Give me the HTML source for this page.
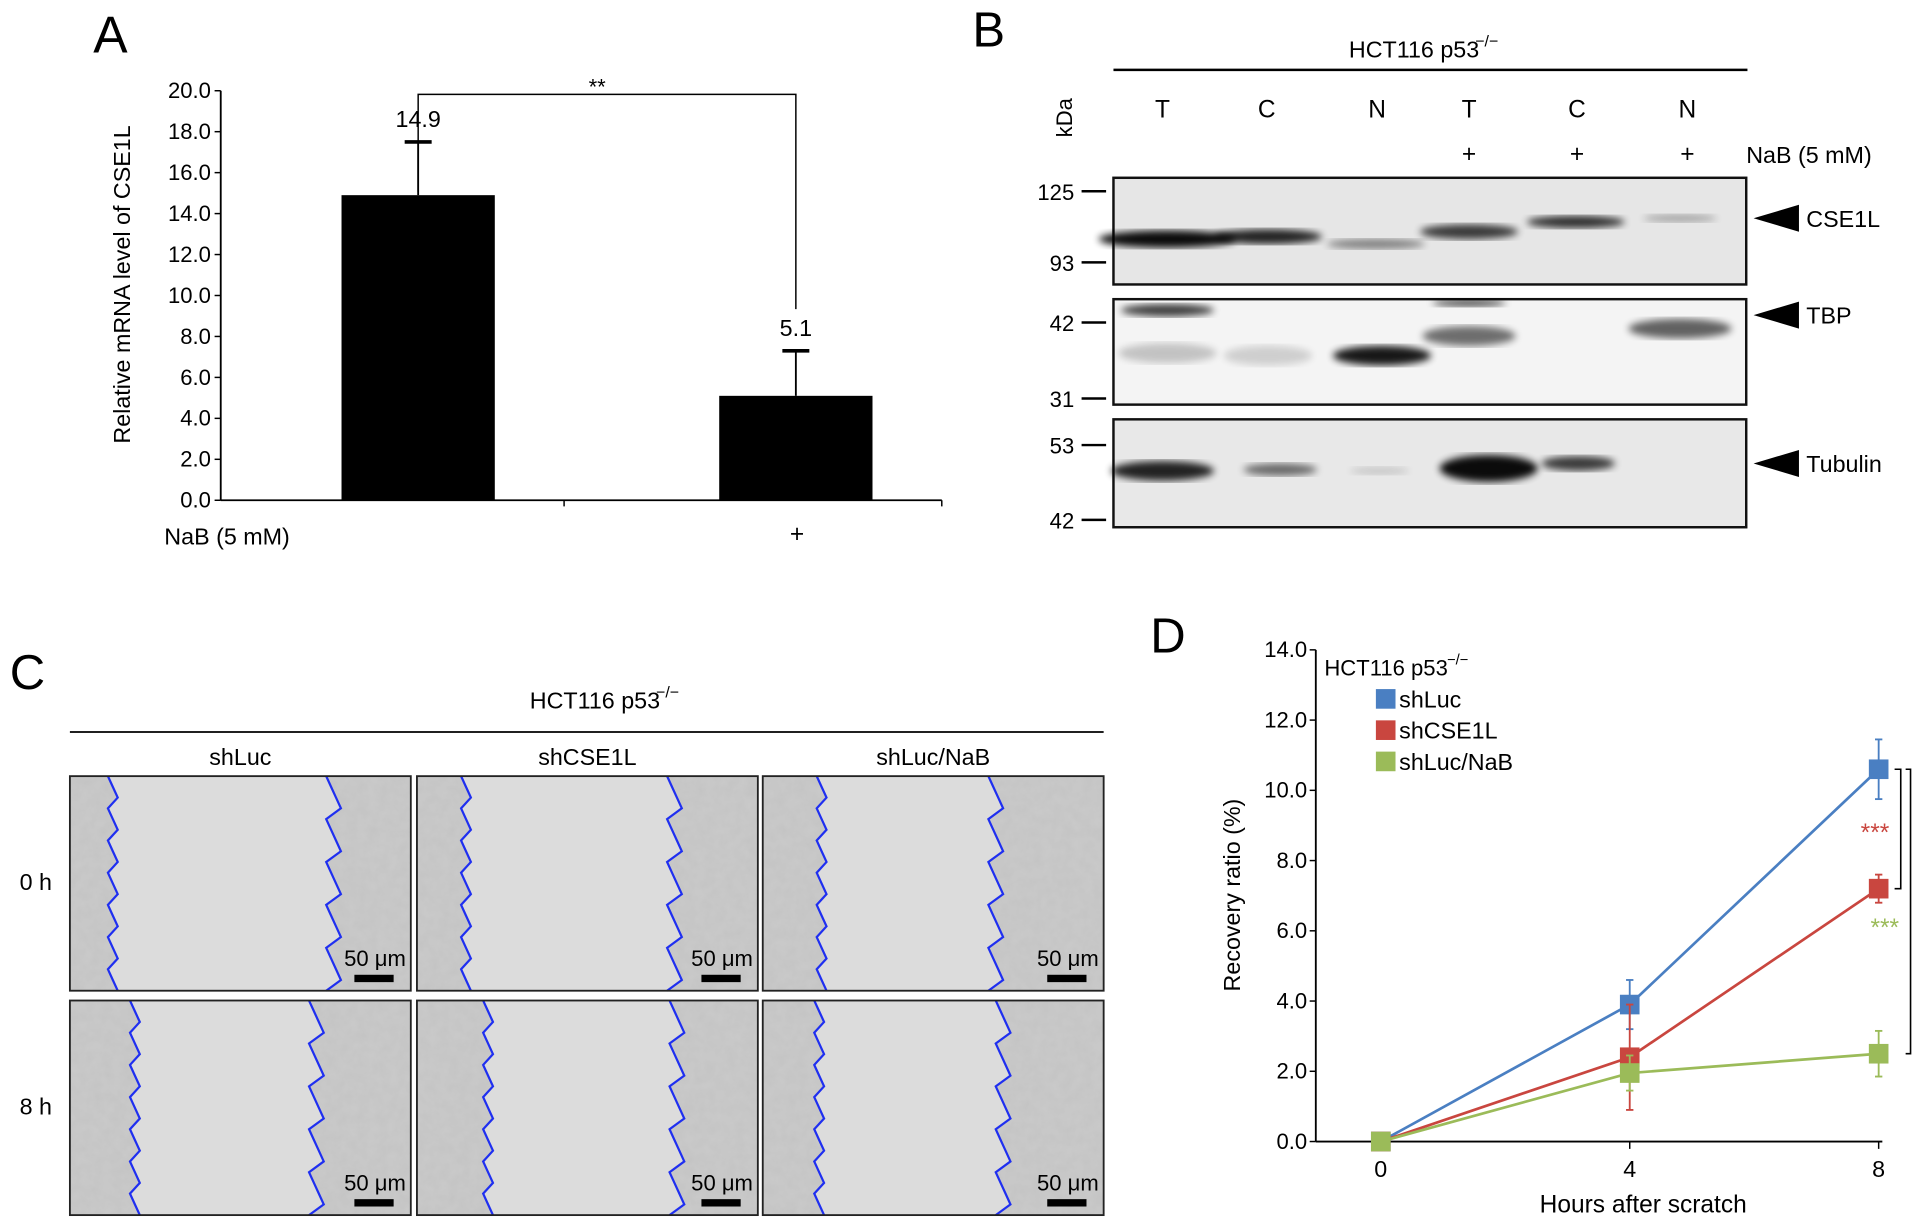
<!DOCTYPE html>
<html><head><meta charset="utf-8"><style>
html,body{margin:0;padding:0;background:#fff;}
svg{display:block;font-family:"Liberation Sans",Arial,sans-serif;}
</style></head><body>
<svg id="fig" width="1913" height="1220" viewBox="0 0 1560 995" preserveAspectRatio="none">
<defs>
<filter id="tex" x="0" y="0" width="1" height="1">
<feTurbulence type="fractalNoise" baseFrequency="0.12" numOctaves="3" seed="4"/>
<feColorMatrix type="matrix" values="0 0 0 0 0.55  0 0 0 0 0.55  0 0 0 0 0.55  0 0 0 -1.4 1.1"/>
</filter>
<filter id="blur"><feGaussianBlur stdDeviation="3"/></filter>
</defs>
<g id="panelA"></g>
<g id="panelB"></g>
<g id="panelC"></g>
<g id="panelD"></g>
</svg>
<script>
// ---- Panel A data ----
const aCategories = ['', '+'];
const aValues = [14.9, 5.1];
const aErrors = [2.6, 2.2];
const aTicks = [0,2,4,6,8,10,12,14,16,18,20];
const aValueLabels = ['14.9','5.1'];
// ---- Panel D data ----
const dHours = [0, 4, 8];
const dSeriesNames = ['shLuc','shCSE1L','shLuc/NaB'];
const dShLuc = [0, 3.9, 10.6];
const dShCSE1L = [0, 2.4, 7.2];
const dShLucNaB = [0, 1.95, 2.5];
const dErrShLuc = [0, 0.7, 0.85];
const dErrShCSE1L = [0, 1.5, 0.4];
const dErrShLucNaB = [0, 0.5, 0.65];
const dYTicks = [0,2,4,6,8,10,12,14];

const NS='http://www.w3.org/2000/svg';
function mk(parent, tag, attrs, text){
  const e=document.createElementNS(NS,tag);
  for(const k in attrs) e.setAttribute(k, attrs[k]);
  if(text!==undefined) e.textContent=text;
  parent.appendChild(e); return e;
}
// ================= Panel A =================
(function(){
  const g=document.getElementById('panelA');
  const x0=180, x1=768, y0=408, y1=74, ymax=20;
  const ys=v=>y0-(v/ymax)*(y0-y1);
  const centers=[341,649], bw=125;
  let t=mk(g,'text',{x:76,y:43,'font-size':42},'A');
   
  let ax=mk(g,'line',{x1:x0,y1:y1,x2:x0,y2:y0,stroke:'#000','stroke-width':1.5});
   
  let xa=mk(g,'line',{x1:x0,y1:y0,x2:x1,y2:y0,stroke:'#000','stroke-width':1.5});
   
  mk(g,'line',{x1:460,y1:y0,x2:460,y2:y0+5,stroke:'#000','stroke-width':1.2});
  mk(g,'line',{x1:x1,y1:y0,x2:x1,y2:y0+5,stroke:'#000','stroke-width':1.2});
  aTicks.forEach(v=>{
    mk(g,'line',{x1:x0-5,y1:ys(v),x2:x0,y2:ys(v),stroke:'#000','stroke-width':1.2});
    const l=mk(g,'text',{x:x0-8,y:ys(v)+6,'font-size':18,'text-anchor':'end'},v.toFixed(1));
     
  });
  aValues.forEach((v,i)=>{
    const c=centers[i];
    const b=mk(g,'rect',{x:c-bw/2,y:ys(v),width:bw,height:y0-ys(v),fill:'#000'});
     
    mk(g,'line',{x1:c,y1:ys(v),x2:c,y2:ys(v+aErrors[i]),stroke:'#000','stroke-width':1.5});
    mk(g,'line',{x1:c-11,y1:ys(v+aErrors[i]),x2:c+11,y2:ys(v+aErrors[i]),stroke:'#000','stroke-width':3});
    const vl=mk(g,'text',{x:c,y:ys(v+aErrors[i])-12,'font-size':19,'text-anchor':'middle'},aValueLabels[i]);
     
    const cl=mk(g,'text',{x:c+1,y:442,'font-size':20,'text-anchor':'middle'},aCategories[i]);
     
  });
  mk(g,'polyline',{points:`${centers[0]},${ys(15.6)+9} ${centers[0]},77 ${centers[1]},77 ${centers[1]},${ys(7.3)-34}`,fill:'none',stroke:'#000','stroke-width':1.2});
  let s=mk(g,'text',{x:487,y:77,'font-size':18,'text-anchor':'middle'},'**');
   
  let yt=mk(g,'text',{x:0,y:0,'font-size':19,'text-anchor':'middle',transform:'translate(106,232) rotate(-90)'},'Relative mRNA level of CSE1L');
   
  let nb=mk(g,'text',{x:134,y:444,'font-size':19},'NaB (5 mM)');
   
})();
// ================= Panel B =================
(function(){
  const g=document.getElementById('panelB');
  let t=mk(g,'text',{x:793,y:38,'font-size':40},'B');
   
  let h=mk(g,'text',{x:1100,y:47,'font-size':19},'HCT116 p53');
   
  mk(g,'text',{x:1203,y:38,'font-size':13},'−/−');
  mk(g,'line',{x1:908,y1:57,x2:1425,y2:57,stroke:'#000','stroke-width':2});
  let k=mk(g,'text',{x:0,y:0,'font-size':18,transform:'translate(874,112) rotate(-90)'},'kDa');
   
  const lanes=['T','C','N','T','C','N'], lx=[948,1033,1123,1198,1286,1376];
  lanes.forEach((l,i)=>{
    const e=mk(g,'text',{x:lx[i],y:96,'font-size':20,'text-anchor':'middle'},l);
     
    if(i>=3) mk(g,'text',{x:lx[i],y:132,'font-size':20,'text-anchor':'middle'},'+');
  });
  let n=mk(g,'text',{x:1424,y:133,'font-size':19},'NaB (5 mM)');
   
  const blots=[
    {y:145,h:87,bg:'#e6e6e6',marks:[['125',156],['93',214]],name:'CSE1L',ay:178,
     bands:[[952,195,56,7,0.95],[1034,193,44,6,0.85],[1122,199,40,4,0.45],[1198,189,40,6,0.75],[1285,181,40,5,0.8],[1370,178,30,3,0.3]]},
    {y:244,h:86,bg:'#f4f4f4',marks:[['42',263],['31',325]],name:'TBP',ay:257,
     bands:[[952,253,38,5,0.75],[952,288,40,8,0.2],[1034,290,36,8,0.15],[1127,290,40,8,0.9],[1198,274,38,8,0.55],[1198,247,30,3,0.7],[1370,268,42,8,0.6]]},
    {y:342,h:88,bg:'#e8e8e8',marks:[['53',363],['42',424]],name:'Tubulin',ay:378,
     bands:[[948,384,42,8,0.85],[1044,383,30,5,0.55],[1125,384,24,3,0.15],[1214,382,40,11,0.95],[1287,378,30,6,0.75]]}
  ];
  blots.forEach(b=>{
    const r=mk(g,'rect',{x:908,y:b.y,width:516,height:b.h,fill:b.bg,stroke:'#111','stroke-width':2});
     
    b.bands.forEach(bd=>{
      mk(g,'ellipse',{cx:bd[0],cy:bd[1],rx:bd[2],ry:bd[3],fill:'#000',opacity:bd[4],filter:'url(#blur)'});
    });
    b.marks.forEach(m=>{
      mk(g,'line',{x1:882,y1:m[1],x2:902,y2:m[1],stroke:'#000','stroke-width':2});
      const e=mk(g,'text',{x:876,y:m[1]+7,'font-size':18,'text-anchor':'end'},m[0]);
       
    });
    mk(g,'polygon',{points:`1430,${b.ay} 1467,${b.ay-11} 1467,${b.ay+11}`,fill:'#000'});
    const l=mk(g,'text',{x:1473,y:b.ay+7,'font-size':19},b.name);
     
  });
})();
// ================= Panel C =================
(function(){
  const g=document.getElementById('panelC');
  let t=mk(g,'text',{x:8,y:562,'font-size':40},'C');
   
  let h=mk(g,'text',{x:432,y:578,'font-size':19},'HCT116 p53');
   
  mk(g,'text',{x:535,y:569,'font-size':13},'−/−');
  mk(g,'line',{x1:57,y1:597,x2:900,y2:597,stroke:'#000','stroke-width':1.5});
  const cols=[[57,'shLuc',[[92,270],[100,262],[110,258]]],[340,'shCSE1L',[[378,548],[400,552],[0,0]]],[622,'shLuc/NaB',[[670,810],[665,818],[0,0]]]];
  const rows=[[633,'0 h'],[816,'8 h']];
  const gaps=[[[92,272],[110,258]],[[380,550],[398,552]],[[670,812],[668,818]]];
  cols.forEach((c,ci)=>{
    const lab=mk(g,'text',{x:c[0]+139,y:624,'font-size':19,'text-anchor':'middle'},c[1]);
     
    rows.forEach((r,ri)=>{
      const x=c[0], y=r[0], w=278, hh=175;
      const gr=mk(g,'g',{});
       
      mk(gr,'rect',{x:x,y:y,width:w,height:hh,fill:'#c9c9c9'});
      mk(gr,'rect',{x:x,y:y,width:w,height:hh,filter:'url(#tex)'});
      const [lx,rx]=gaps[ci][ri];
      let pts=[];
      for(let k=0;k<=20;k++){pts.push(`${lx+((k%3)-1)*4},${y+k*hh/20}`);}
      let pts2=[];
      for(let k=20;k>=0;k--){pts2.push(`${rx+((k%4)-1.5)*4},${y+k*hh/20}`);}
      mk(gr,'polygon',{points:pts.concat(pts2).join(' '),fill:'#dcdcdc'});
      mk(gr,'polyline',{points:pts.join(' '),fill:'none',stroke:'#1f2ff0','stroke-width':1.8});
      mk(gr,'polyline',{points:pts2.join(' '),fill:'none',stroke:'#1f2ff0','stroke-width':1.8});
      mk(gr,'rect',{x:x,y:y,width:w,height:hh,fill:'none',stroke:'#222','stroke-width':1.5});
      mk(gr,'text',{x:x+w-4,y:y+hh-20,'font-size':18,'text-anchor':'end'},'50 μm');
      mk(gr,'rect',{x:x+w-46,y:y+hh-13,width:32,height:6,fill:'#000'});
    });
  });
  rows.forEach(r=>{
    const e=mk(g,'text',{x:16,y:r[0]+93,'font-size':19},r[1]);
     
  });
})();
// ================= Panel D =================
(function(){
  const g=document.getElementById('panelD');
  const x0=1073, y0=931, y14=530;
  const ys=v=>y0-v/14*(y0-y14);
  const xs=h=>1126+h/8*(1532-1126);
  let t=mk(g,'text',{x:938,y:532,'font-size':40},'D');
   
  let ax=mk(g,'line',{x1:x0,y1:y14,x2:x0,y2:y0,stroke:'#000','stroke-width':1.5});
   
  let xa=mk(g,'line',{x1:x0,y1:y0,x2:1535,y2:y0,stroke:'#000','stroke-width':1.5});
   
  dYTicks.forEach(v=>{
    mk(g,'line',{x1:x0-5,y1:ys(v),x2:x0,y2:ys(v),stroke:'#000','stroke-width':1.2});
    const l=mk(g,'text',{x:x0-7,y:ys(v)+6,'font-size':18,'text-anchor':'end'},v.toFixed(1));
     
  });
  dHours.forEach(hv=>{
    if(hv>0) mk(g,'line',{x1:xs(hv),y1:y0,x2:xs(hv),y2:y0+6,stroke:'#000','stroke-width':1.2});
    const l=mk(g,'text',{x:xs(hv),y:y0+29,'font-size':19,'text-anchor':'middle'},String(hv));
     
  });
  const series=[[dShLuc,dErrShLuc,'#4a7fc2'],[dShCSE1L,dErrShCSE1L,'#c9463f'],[dShLucNaB,dErrShLucNaB,'#9bbb59']];
  series.forEach((s,si)=>{
    const [vals,errs,col]=s;
    const line=mk(g,'polyline',{points:vals.map((v,i)=>xs(dHours[i])+','+ys(v)).join(' '),fill:'none',stroke:col,'stroke-width':2.2});
    
    
    vals.forEach((v,i)=>{
      const x=xs(dHours[i]);
      if(errs[i]>0){
        mk(g,'line',{x1:x,y1:ys(v-errs[i]),x2:x,y2:ys(v+errs[i]),stroke:col,'stroke-width':1.5});
        mk(g,'line',{x1:x-3,y1:ys(v+errs[i]),x2:x+3,y2:ys(v+errs[i]),stroke:col,'stroke-width':1.5});
        mk(g,'line',{x1:x-3,y1:ys(v-errs[i]),x2:x+3,y2:ys(v-errs[i]),stroke:col,'stroke-width':1.5});
      }
      const p=mk(g,'rect',{x:x-8,y:ys(v)-8,width:16,height:16,fill:col});
      
      
    });
  });
  // legend
  let lt=mk(g,'text',{x:1080,y:551,'font-size':18},'HCT116 p53');
   
  mk(g,'text',{x:1180,y:542,'font-size':12},'−/−');
  const lcols=['#4a7fc2','#c9463f','#9bbb59'];
  dSeriesNames.forEach((n,i)=>{
    const y=570+i*25.5;
    const sw=mk(g,'rect',{x:1122,y:y-8,width:16,height:16,fill:lcols[i]});
     
    const e=mk(g,'text',{x:1141,y:y+7,'font-size':19},n);
     
  });
  // brackets
  const b1t=ys(dShLuc[2]), b1b=ys(dShCSE1L[2]), b2b=ys(dShLucNaB[2]);
  mk(g,'polyline',{points:`1545,${b1t} 1550,${b1t} 1550,${b1b} 1545,${b1b}`,fill:'none',stroke:'#000','stroke-width':1.3});
  mk(g,'polyline',{points:`1554,${b1t} 1558,${b1t} 1558,${b2b} 1554,${b2b}`,fill:'none',stroke:'#000','stroke-width':1.3});
  let s1=mk(g,'text',{x:1529,y:(b1t+b1b)/2+10,'font-size':20,'text-anchor':'middle',fill:'#c9463f'},'***');
   
  let s2=mk(g,'text',{x:1537,y:(b1t+b2b)/2+20,'font-size':20,'text-anchor':'middle',fill:'#9bbb59'},'***');
   
  let yt=mk(g,'text',{x:0,y:0,'font-size':19,'text-anchor':'middle',transform:'translate(1011,730) rotate(-90)'},'Recovery ratio (%)');
   
  let xt=mk(g,'text',{x:1340,y:989,'font-size':20,'text-anchor':'middle'},'Hours after scratch');
   
})();
</script>
</body></html>
